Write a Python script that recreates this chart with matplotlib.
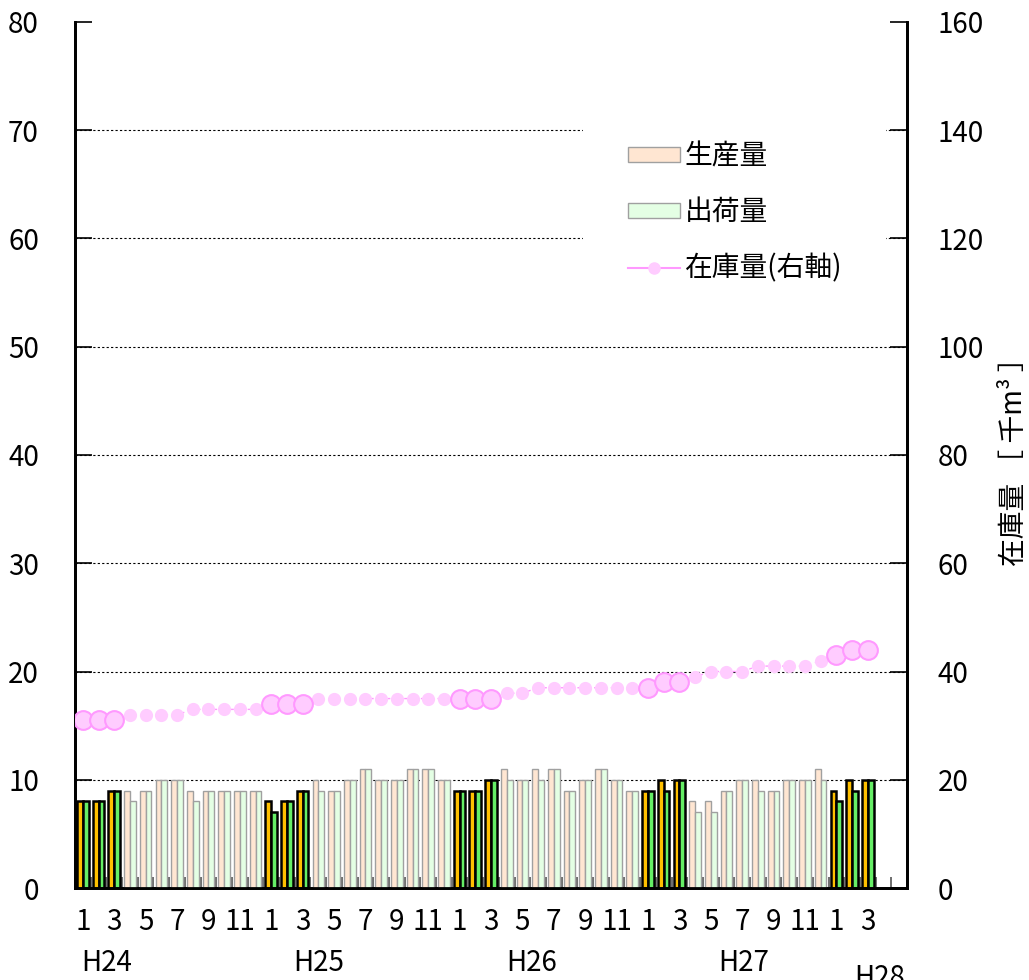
import numpy as np
import matplotlib
matplotlib.use('Agg')
import matplotlib.pyplot as plt
import matplotlib.transforms as mtransforms

plt.rcParams['font.family'] = ['Noto Sans CJK JP', 'DejaVu Sans']

# monthly data, H24 Jan .. H28 Mar
production = [8, 8, 9, 9, 9, 10, 10, 9, 9, 9, 9, 9,
              8, 8, 9, 10, 9, 10, 11, 10, 10, 11, 11, 10,
              9, 9, 10, 11, 10, 11, 11, 9, 10, 11, 10, 9,
              9, 10, 10, 8, 8, 9, 10, 10, 9, 10, 10, 11,
              9, 10, 10]
shipment = [8, 8, 9, 8, 9, 10, 10, 8, 9, 9, 9, 9,
            7, 8, 9, 9, 9, 10, 11, 10, 10, 11, 11, 10,
            9, 9, 10, 10, 10, 10, 11, 9, 10, 11, 10, 9,
            9, 9, 10, 7, 7, 9, 10, 9, 9, 10, 10, 10,
            8, 9, 10]
stock = [31, 31, 31, 32, 32, 32, 32, 33, 33, 33, 33, 33,
         34, 34, 34, 35, 35, 35, 35, 35, 35, 35, 35, 35,
         35, 35, 35, 36, 36, 37, 37, 37, 37, 37, 37, 37,
         37, 38, 38, 39, 40, 40, 40, 41, 41, 41, 41, 42,
         43, 44, 44]
months = [(i % 12) + 1 for i in range(len(production))]
years = ['H24', 'H25', 'H26', 'H27', 'H28']
n_slots = 53

fs = 20
x = np.arange(len(production))
hi = np.array([m <= 3 for m in months])
w = 0.37

fig = plt.figure(figsize=(10.29, 9.8), dpi=100)
ax = fig.add_axes([75/1029, 92/980, 832/1029, 866/980])
ax2 = ax.twinx()

# bars: normal months
ax.bar(x[~hi] - w/2, np.array(production)[~hi], w, color='#FFE6D2',
       edgecolor='#A0A0A0', linewidth=1.0, zorder=3)
ax.bar(x[~hi] + w/2, np.array(shipment)[~hi], w, color='#E4FFE4',
       edgecolor='#A0A0A0', linewidth=1.0, zorder=3)
# bars: Jan-Mar highlighted
ax.bar(x[hi] - w/2, np.array(production)[hi], w, color='#FFC000',
       edgecolor='black', linewidth=1.8, zorder=3)
ax.bar(x[hi] + w/2, np.array(shipment)[hi], w, color='#66EE66',
       edgecolor='black', linewidth=1.8, zorder=3)

# legend proxies
h1 = ax.bar([np.nan], [np.nan], color='#FFE6D2', edgecolor='#A0A0A0', linewidth=1.0)
h2 = ax.bar([np.nan], [np.nan], color='#E4FFE4', edgecolor='#A0A0A0', linewidth=1.0)
h3, = ax.plot([np.nan], [np.nan], color='#FF99FF', lw=1.5, marker='o', ms=8,
              mfc='#FFCCFF', mec='#FFCCFF')

# stock line on right axis
st = np.array(stock)
ax2.plot(x, st, color='#FF99FF', lw=1.0, ls=(0, (2, 4)), zorder=4)
ax2.plot(x[~hi], st[~hi], ls='none', marker='o', ms=8.5, mfc='#FFCCFF',
         mec='#FFCCFF', zorder=5)
ax2.plot(x[hi], st[hi], ls='none', marker='o', ms=13.5, mfc='#FFCCFF',
         mec='#FF99FF', mew=1.5, zorder=6)

ax.set_xlim(-0.5, n_slots - 0.5)
ax.set_ylim(0, 80)
ax2.set_ylim(0, 160)
ax.set_yticks(range(0, 81, 10))
ax2.set_yticks(range(0, 161, 20))

for y in range(10, 80, 10):
    ax.axhline(y, color='black', lw=0.8, ls=(0, (2, 2)), zorder=1)

ax.set_xticks(np.arange(-0.5, n_slots, 1))
ax.set_xticklabels([])
lab_pos = [i for i, m in enumerate(months) if m % 2 == 1]
ax.set_xticks(lab_pos, minor=True)
ax.set_xticklabels([str(months[i]) for i in lab_pos], minor=True, fontsize=fs)
ax.tick_params(axis='x', which='major', direction='in', length=8, color='#555555', width=1.2)
ax.tick_params(axis='x', which='minor', length=0, pad=14)
ax.tick_params(axis='y', direction='in', length=12, width=1.2, labelsize=fs, pad=26)
ax2.tick_params(axis='y', direction='in', length=12, width=1.2, labelsize=fs, pad=22)

for a in (ax, ax2):
    a.spines['top'].set_visible(False)
    for s in ('left', 'right', 'bottom'):
        a.spines[s].set_linewidth(2)

year_x = [-0.12, 13.41, 26.94, 40.47, 49.15]
year_y = [-0.087, -0.087, -0.087, -0.087, -0.104]
trans = mtransforms.blended_transform_factory(ax.transData, ax.transAxes)
for xx, yy, t in zip(year_x, year_y, years):
    ax.text(xx, yy, t, transform=trans, ha='left', va='center', fontsize=fs, clip_on=False)

ax2.set_ylabel('在庫量 ［ 千m³ ］', fontsize=fs, labelpad=11)

leg = ax2.legend([h1, h2, h3], ['生産量', '出荷量', '在庫量(右軸)'],
                 loc='upper left', bbox_to_anchor=(0.594, 0.93), fontsize=fs,
                 frameon=True, facecolor='white', edgecolor='none', framealpha=1,
                 borderpad=1.6, handlelength=1.9, handleheight=0.45,
                 handletextpad=0.15, labelspacing=0.95)
leg.set_zorder(7)

fig.savefig('out.png', dpi=100)
